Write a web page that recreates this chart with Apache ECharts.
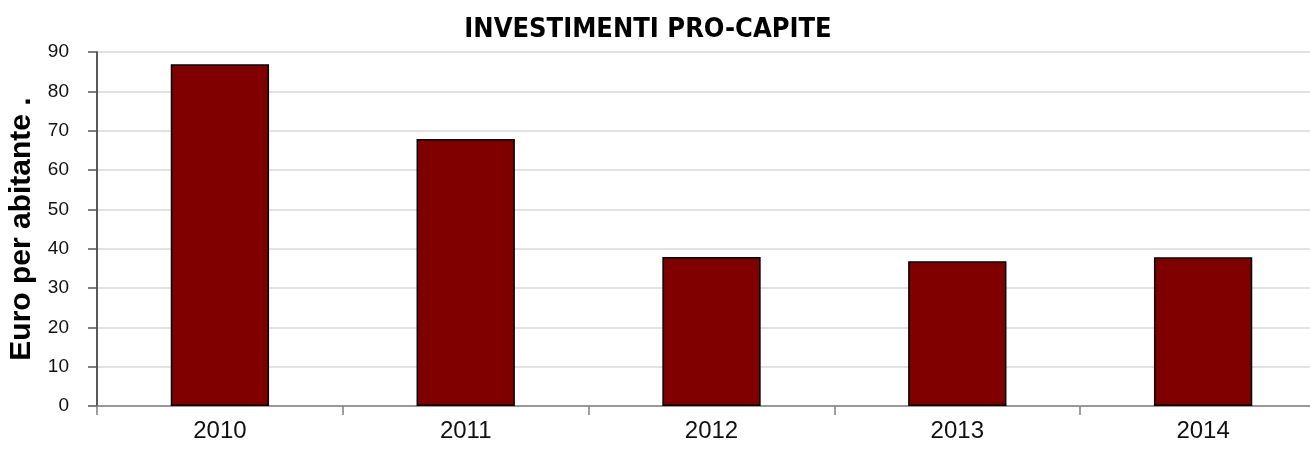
<!DOCTYPE html>
<html>
<head>
<meta charset="utf-8">
<script src="https://cdn.jsdelivr.net/npm/echarts@6/dist/echarts.min.js"></script>
<style>html,body{margin:0;padding:0;background:#fff}#c{width:1310px;height:463px}</style>
</head>
<body>
<div id="c"></div>
<script>
const categories = ['2010', '2011', '2012', '2013', '2014'];
const values = [86.9, 67.9, 37.9, 36.8, 37.8];
const yTicks = { min: 0, max: 90, interval: 10 };
const titleText = 'INVESTIMENTI PRO-CAPITE';
const yName = 'Euro per abitante .';

const narrow = '"DejaVu Sans Condensed", "Liberation Sans", sans-serif';
const sans = '"Liberation Sans", Arial, sans-serif';
const chart = echarts.init(document.getElementById('c'));
chart.setOption({
  animation: false,
  backgroundColor: '#fff',
  title: {
    text: titleText,
    left: 643,
    textAlign: 'center',
    top: 11,
    textStyle: { fontFamily: narrow, fontWeight: 'bold', fontSize: 27, color: '#000' }
  },
  grid: { left: 97, right: -16, top: 52, bottom: 57, containLabel: false, outerBoundsMode: 'none' },
  xAxis: {
    type: 'category',
    data: categories,
    axisLine: { lineStyle: { color: '#808080', width: 1.5 } },
    axisTick: { show: true, length: 9, lineStyle: { color: '#808080', width: 1.5 } },
    axisLabel: { color: '#111', fontSize: 24, margin: 13, fontFamily: sans }
  },
  yAxis: {
    type: 'value',
    min: yTicks.min, max: yTicks.max, interval: yTicks.interval,
    name: yName,
    nameLocation: 'middle',
    nameGap: 60,
    nameRotate: 90,
    nameTextStyle: { fontFamily: sans, fontWeight: 'bold', fontSize: 30, color: '#000' },
    axisLine: { show: true, lineStyle: { color: '#222', width: 1.5 } },
    axisTick: { show: true, length: 9, lineStyle: { color: '#555', width: 1.5 } },
    axisLabel: { color: '#111', fontSize: 19, margin: 28, fontFamily: sans },
    splitLine: { show: true, lineStyle: { color: '#d9d9d9', width: 1.5 } }
  },
  series: [{
    type: 'bar',
    data: values,
    barWidth: '40%',
    itemStyle: { color: '#800000', borderColor: '#000', borderWidth: 1.5 }
  }]
});
</script>
</body>
</html>
